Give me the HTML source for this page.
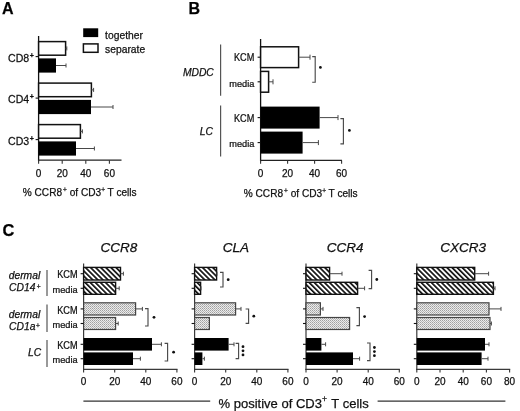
<!DOCTYPE html>
<html><head><meta charset="utf-8"><style>
html,body{margin:0;padding:0;background:#fff;}
svg{display:block;font-family:"Liberation Sans", sans-serif;filter:blur(0.4px);}
text{stroke:#111;stroke-width:0.25px;}
</style></head><body>
<svg width="520" height="411" viewBox="0 0 520 411">
<defs>
<pattern id="hatch" patternUnits="userSpaceOnUse" width="3.6" height="10" patternTransform="rotate(-45)">
<rect width="3.6" height="10" fill="#fff"/><rect width="1.7" height="10" fill="#111"/>
</pattern>
<pattern id="dots" patternUnits="userSpaceOnUse" width="2" height="2">
<rect width="2" height="2" fill="#ebebeb"/><rect width="1" height="1" fill="#a0a0a0"/><rect x="1" y="1" width="1" height="1" fill="#b8b8b8"/>
</pattern>
</defs>
<rect width="520" height="411" fill="#fff"/>
<text x="2" y="14" font-size="16" text-anchor="start" font-style="normal" font-weight="bold" fill="#000">A</text>
<line x1="38.6" y1="36" x2="38.6" y2="161.2" stroke="#111" stroke-width="1.3"/>
<line x1="38.0" y1="160.2" x2="121.5" y2="160.2" stroke="#222" stroke-width="1.2"/>
<line x1="38.6" y1="160.2" x2="38.6" y2="163.8" stroke="#333" stroke-width="1.1"/>
<text x="38.6" y="176.6" font-size="10" text-anchor="middle" font-style="normal" font-weight="normal" fill="#111">0</text>
<line x1="62.2" y1="160.2" x2="62.2" y2="163.8" stroke="#333" stroke-width="1.1"/>
<text x="62.2" y="176.6" font-size="10" text-anchor="middle" font-style="normal" font-weight="normal" fill="#111">20</text>
<line x1="85.80000000000001" y1="160.2" x2="85.80000000000001" y2="163.8" stroke="#333" stroke-width="1.1"/>
<text x="85.80000000000001" y="176.6" font-size="10" text-anchor="middle" font-style="normal" font-weight="normal" fill="#111">40</text>
<line x1="109.4" y1="160.2" x2="109.4" y2="163.8" stroke="#333" stroke-width="1.1"/>
<text x="109.4" y="176.6" font-size="10" text-anchor="middle" font-style="normal" font-weight="normal" fill="#111">60</text>
<rect x="38.6" y="41.6" width="26.999999999999993" height="13.6" fill="#fff" stroke="#111" stroke-width="1.5"/>
<line x1="65.6" y1="48.400000000000006" x2="66.8" y2="48.400000000000006" stroke="#484848" stroke-width="1"/>
<line x1="66.8" y1="46.400000000000006" x2="66.8" y2="50.400000000000006" stroke="#484848" stroke-width="1"/>
<rect x="38.6" y="58.4" width="17.4" height="14.2" fill="#000"/>
<line x1="56" y1="65.5" x2="66" y2="65.5" stroke="#484848" stroke-width="1"/>
<line x1="66" y1="63.5" x2="66" y2="67.5" stroke="#484848" stroke-width="1"/>
<line x1="35.6" y1="56.6" x2="38.6" y2="56.6" stroke="#111" stroke-width="1.1"/>
<text transform="translate(29.2,61.9) scale(0.96,1)" font-size="11" text-anchor="end" font-style="normal" font-weight="normal" fill="#111">CD8</text>
<text x="29.7" y="57.7" font-size="7" text-anchor="start" font-style="normal" font-weight="bold" fill="#111">+</text>
<rect x="38.6" y="83.1" width="52.800000000000004" height="13.6" fill="#fff" stroke="#111" stroke-width="1.5"/>
<line x1="91.4" y1="89.89999999999999" x2="93.6" y2="89.89999999999999" stroke="#484848" stroke-width="1"/>
<line x1="93.6" y1="87.89999999999999" x2="93.6" y2="91.89999999999999" stroke="#484848" stroke-width="1"/>
<rect x="38.6" y="99.89999999999999" width="52.4" height="14.2" fill="#000"/>
<line x1="91" y1="107.0" x2="113" y2="107.0" stroke="#484848" stroke-width="1"/>
<line x1="113" y1="105.0" x2="113" y2="109.0" stroke="#484848" stroke-width="1"/>
<line x1="35.6" y1="98.1" x2="38.6" y2="98.1" stroke="#111" stroke-width="1.1"/>
<text transform="translate(29.2,103.39999999999999) scale(0.96,1)" font-size="11" text-anchor="end" font-style="normal" font-weight="normal" fill="#111">CD4</text>
<text x="29.7" y="99.19999999999999" font-size="7" text-anchor="start" font-style="normal" font-weight="bold" fill="#111">+</text>
<rect x="38.6" y="124.6" width="41.800000000000004" height="13.6" fill="#fff" stroke="#111" stroke-width="1.5"/>
<line x1="80.4" y1="131.4" x2="82.4" y2="131.4" stroke="#484848" stroke-width="1"/>
<line x1="82.4" y1="129.4" x2="82.4" y2="133.4" stroke="#484848" stroke-width="1"/>
<rect x="38.6" y="141.4" width="37.4" height="14.2" fill="#000"/>
<line x1="76" y1="148.5" x2="94.4" y2="148.5" stroke="#484848" stroke-width="1"/>
<line x1="94.4" y1="146.5" x2="94.4" y2="150.5" stroke="#484848" stroke-width="1"/>
<line x1="35.6" y1="139.6" x2="38.6" y2="139.6" stroke="#111" stroke-width="1.1"/>
<text transform="translate(29.2,144.9) scale(0.96,1)" font-size="11" text-anchor="end" font-style="normal" font-weight="normal" fill="#111">CD3</text>
<text x="29.7" y="140.7" font-size="7" text-anchor="start" font-style="normal" font-weight="bold" fill="#111">+</text>
<rect x="83.2" y="28.3" width="15" height="8.8" fill="#000"/>
<rect x="83.4" y="43.9" width="14.6" height="8.4" fill="#fff" stroke="#111" stroke-width="1.5"/>
<text x="105.1" y="38.5" font-size="10.3" text-anchor="start" font-style="normal" font-weight="normal" fill="#111">together</text>
<text x="105.1" y="53.4" font-size="10.3" text-anchor="start" font-style="normal" font-weight="normal" fill="#111">separate</text>
<text x="22.8" y="196.1" font-size="10.1" text-anchor="start" font-style="normal" font-weight="normal" fill="#111">% CCR8<tspan font-size="6.5" dy="-4" dx="1">+</tspan><tspan dy="4" dx="0"> </tspan>of CD3<tspan font-size="6.5" dy="-4" dx="0.1">+</tspan><tspan dy="4" dx="0"> </tspan>T cells</text>
<text x="188.6" y="13.9" font-size="16" text-anchor="start" font-style="normal" font-weight="bold" fill="#000">B</text>
<line x1="260.6" y1="39" x2="260.6" y2="161.2" stroke="#111" stroke-width="1.3"/>
<line x1="260.0" y1="160.4" x2="342" y2="160.4" stroke="#222" stroke-width="1.2"/>
<line x1="260.6" y1="160.4" x2="260.6" y2="163.8" stroke="#333" stroke-width="1.1"/>
<text x="260.6" y="176.6" font-size="10" text-anchor="middle" font-style="normal" font-weight="normal" fill="#111">0</text>
<line x1="287.6" y1="160.4" x2="287.6" y2="163.8" stroke="#333" stroke-width="1.1"/>
<text x="287.6" y="176.6" font-size="10" text-anchor="middle" font-style="normal" font-weight="normal" fill="#111">20</text>
<line x1="314.6" y1="160.4" x2="314.6" y2="163.8" stroke="#333" stroke-width="1.1"/>
<text x="314.6" y="176.6" font-size="10" text-anchor="middle" font-style="normal" font-weight="normal" fill="#111">40</text>
<line x1="341.6" y1="160.4" x2="341.6" y2="163.8" stroke="#333" stroke-width="1.1"/>
<text x="341.6" y="176.6" font-size="10" text-anchor="middle" font-style="normal" font-weight="normal" fill="#111">60</text>
<rect x="260.6" y="46.800000000000004" width="38.0" height="20.8" fill="#fff" stroke="#111" stroke-width="1.5"/>
<line x1="298.6" y1="57.2" x2="310" y2="57.2" stroke="#484848" stroke-width="1"/>
<line x1="310" y1="54.7" x2="310" y2="59.7" stroke="#484848" stroke-width="1"/>
<line x1="257.6" y1="57.2" x2="260.6" y2="57.2" stroke="#111" stroke-width="1.1"/>
<text transform="translate(254.3,61.3) scale(0.91,1)" font-size="10.1" text-anchor="end" font-style="normal" font-weight="normal" fill="#111">KCM</text>
<rect x="260.6" y="71.39999999999999" width="8.0" height="20.8" fill="#fff" stroke="#111" stroke-width="1.5"/>
<line x1="268.6" y1="81.8" x2="273" y2="81.8" stroke="#484848" stroke-width="1"/>
<line x1="273" y1="79.3" x2="273" y2="84.3" stroke="#484848" stroke-width="1"/>
<line x1="257.6" y1="81.8" x2="260.6" y2="81.8" stroke="#111" stroke-width="1.1"/>
<text transform="translate(254.3,86.9) scale(0.94,1)" font-size="9.8" text-anchor="end" font-style="normal" font-weight="normal" fill="#111">media</text>
<rect x="260.6" y="106.6" width="59.0" height="22" fill="#000"/>
<line x1="319.6" y1="117.6" x2="338" y2="117.6" stroke="#484848" stroke-width="1"/>
<line x1="338" y1="115.1" x2="338" y2="120.1" stroke="#484848" stroke-width="1"/>
<line x1="257.6" y1="117.6" x2="260.6" y2="117.6" stroke="#111" stroke-width="1.1"/>
<text transform="translate(254.3,121.7) scale(0.91,1)" font-size="10.1" text-anchor="end" font-style="normal" font-weight="normal" fill="#111">KCM</text>
<rect x="260.6" y="131.6" width="42.0" height="22" fill="#000"/>
<line x1="302.6" y1="142.6" x2="318.4" y2="142.6" stroke="#484848" stroke-width="1"/>
<line x1="318.4" y1="140.1" x2="318.4" y2="145.1" stroke="#484848" stroke-width="1"/>
<line x1="257.6" y1="142.6" x2="260.6" y2="142.6" stroke="#111" stroke-width="1.1"/>
<text transform="translate(254.3,147.0) scale(0.94,1)" font-size="9.8" text-anchor="end" font-style="normal" font-weight="normal" fill="#111">media</text>
<polyline points="312.2,56.6 315.2,56.6 315.2,82.2 312.2,82.2" fill="none" stroke="#4a4a4a" stroke-width="1.15"/>
<circle cx="320.4" cy="67.4" r="1.4" fill="#111"/>
<polyline points="340.4,118.6 343.4,118.6 343.4,143.8 340.4,143.8" fill="none" stroke="#4a4a4a" stroke-width="1.15"/>
<circle cx="349.4" cy="130.4" r="1.4" fill="#111"/>
<line x1="220.6" y1="44.4" x2="220.6" y2="95.8" stroke="#555" stroke-width="1.2"/>
<line x1="220.6" y1="105.4" x2="220.6" y2="156.4" stroke="#555" stroke-width="1.2"/>
<text x="213.8" y="75.8" font-size="10.3" text-anchor="end" font-style="italic" font-weight="normal" fill="#111">MDDC</text>
<text x="213.0" y="135.4" font-size="10.3" text-anchor="end" font-style="italic" font-weight="normal" fill="#111">LC</text>
<text x="243.8" y="196.6" font-size="10.1" text-anchor="start" font-style="normal" font-weight="normal" fill="#111">% CCR8<tspan font-size="6.5" dy="-4" dx="1">+</tspan><tspan dy="4" dx="0"> </tspan>of CD3<tspan font-size="6.5" dy="-4" dx="0.1">+</tspan><tspan dy="4" dx="0"> </tspan>T cells</text>
<text x="2.4" y="236.4" font-size="16.4" text-anchor="start" font-style="normal" font-weight="bold" fill="#000">C</text>
<text x="100.4" y="251.6" font-size="13.5" text-anchor="start" font-style="italic" font-weight="normal" fill="#111">CCR8</text>
<text x="222.8" y="251.6" font-size="13.5" text-anchor="start" font-style="italic" font-weight="normal" fill="#111">CLA</text>
<text x="326.8" y="251.6" font-size="13.5" text-anchor="start" font-style="italic" font-weight="normal" fill="#111">CCR4</text>
<text x="440.2" y="251.6" font-size="13.5" text-anchor="start" font-style="italic" font-weight="normal" fill="#111">CXCR3</text>
<line x1="83.6" y1="263.4" x2="83.6" y2="369.9" stroke="#3a3a3a" stroke-width="1.2"/>
<line x1="83.0" y1="369.3" x2="177.5" y2="369.3" stroke="#3a3a3a" stroke-width="1.15"/>
<line x1="83.6" y1="369.3" x2="83.6" y2="372.6" stroke="#333" stroke-width="1.1"/>
<text x="83.6" y="385.4" font-size="10" text-anchor="middle" font-style="normal" font-weight="normal" fill="#111">0</text>
<line x1="114.69999999999999" y1="369.3" x2="114.69999999999999" y2="372.6" stroke="#333" stroke-width="1.1"/>
<text x="114.69999999999999" y="385.4" font-size="10" text-anchor="middle" font-style="normal" font-weight="normal" fill="#111">20</text>
<line x1="145.8" y1="369.3" x2="145.8" y2="372.6" stroke="#333" stroke-width="1.1"/>
<text x="145.8" y="385.4" font-size="10" text-anchor="middle" font-style="normal" font-weight="normal" fill="#111">40</text>
<line x1="176.9" y1="369.3" x2="176.9" y2="372.6" stroke="#333" stroke-width="1.1"/>
<text x="176.9" y="385.4" font-size="10" text-anchor="middle" font-style="normal" font-weight="normal" fill="#111">60</text>
<rect x="83.6" y="267.4" width="36.900000000000006" height="12.6" fill="url(#hatch)" stroke="#111" stroke-width="1.4"/>
<line x1="120.5" y1="273.7" x2="123.4" y2="273.7" stroke="#484848" stroke-width="1"/>
<line x1="123.4" y1="271.7" x2="123.4" y2="275.7" stroke="#484848" stroke-width="1"/>
<line x1="80.6" y1="273.7" x2="83.6" y2="273.7" stroke="#111" stroke-width="1.1"/>
<rect x="83.6" y="282.3" width="32.0" height="12.0" fill="url(#hatch)" stroke="#111" stroke-width="1.4"/>
<line x1="115.6" y1="288.3" x2="119.2" y2="288.3" stroke="#484848" stroke-width="1"/>
<line x1="119.2" y1="286.3" x2="119.2" y2="290.3" stroke="#484848" stroke-width="1"/>
<line x1="80.6" y1="288.3" x2="83.6" y2="288.3" stroke="#111" stroke-width="1.1"/>
<rect x="83.6" y="302.79999999999995" width="52.0" height="12.2" fill="url(#dots)" stroke="#444" stroke-width="1.2"/>
<line x1="135.6" y1="308.9" x2="142.4" y2="308.9" stroke="#484848" stroke-width="1"/>
<line x1="142.4" y1="306.9" x2="142.4" y2="310.9" stroke="#484848" stroke-width="1"/>
<line x1="80.6" y1="308.9" x2="83.6" y2="308.9" stroke="#111" stroke-width="1.1"/>
<rect x="83.6" y="317.5" width="32.0" height="12.0" fill="url(#dots)" stroke="#444" stroke-width="1.2"/>
<line x1="115.6" y1="323.5" x2="118.2" y2="323.5" stroke="#484848" stroke-width="1"/>
<line x1="118.2" y1="321.5" x2="118.2" y2="325.5" stroke="#484848" stroke-width="1"/>
<line x1="80.6" y1="323.5" x2="83.6" y2="323.5" stroke="#111" stroke-width="1.1"/>
<rect x="83.6" y="338.0" width="68.4" height="12.6" fill="#000"/>
<line x1="152" y1="344.3" x2="161.4" y2="344.3" stroke="#484848" stroke-width="1"/>
<line x1="161.4" y1="342.3" x2="161.4" y2="346.3" stroke="#484848" stroke-width="1"/>
<line x1="80.6" y1="344.3" x2="83.6" y2="344.3" stroke="#111" stroke-width="1.1"/>
<rect x="83.6" y="352.4" width="49.400000000000006" height="12.6" fill="#000"/>
<line x1="133" y1="358.7" x2="140.4" y2="358.7" stroke="#484848" stroke-width="1"/>
<line x1="140.4" y1="356.7" x2="140.4" y2="360.7" stroke="#484848" stroke-width="1"/>
<line x1="80.6" y1="358.7" x2="83.6" y2="358.7" stroke="#111" stroke-width="1.1"/>
<polyline points="145,308.6 148,308.6 148,326 145,326" fill="none" stroke="#4a4a4a" stroke-width="1.15"/>
<circle cx="154" cy="317.3" r="1.4" fill="#111"/>
<polyline points="164.6,343.4 167.6,343.4 167.6,361 164.6,361" fill="none" stroke="#4a4a4a" stroke-width="1.15"/>
<circle cx="173.6" cy="352.2" r="1.4" fill="#111"/>
<line x1="194.6" y1="263.4" x2="194.6" y2="369.9" stroke="#3a3a3a" stroke-width="1.2"/>
<line x1="194.0" y1="369.3" x2="288.5" y2="369.3" stroke="#3a3a3a" stroke-width="1.15"/>
<line x1="194.6" y1="369.3" x2="194.6" y2="372.6" stroke="#333" stroke-width="1.1"/>
<text x="194.6" y="385.4" font-size="10" text-anchor="middle" font-style="normal" font-weight="normal" fill="#111">0</text>
<line x1="225.7" y1="369.3" x2="225.7" y2="372.6" stroke="#333" stroke-width="1.1"/>
<text x="225.7" y="385.4" font-size="10" text-anchor="middle" font-style="normal" font-weight="normal" fill="#111">20</text>
<line x1="256.8" y1="369.3" x2="256.8" y2="372.6" stroke="#333" stroke-width="1.1"/>
<text x="256.8" y="385.4" font-size="10" text-anchor="middle" font-style="normal" font-weight="normal" fill="#111">40</text>
<line x1="287.9" y1="369.3" x2="287.9" y2="372.6" stroke="#333" stroke-width="1.1"/>
<text x="287.9" y="385.4" font-size="10" text-anchor="middle" font-style="normal" font-weight="normal" fill="#111">60</text>
<rect x="194.6" y="267.4" width="22.0" height="12.6" fill="url(#hatch)" stroke="#111" stroke-width="1.4"/>
<line x1="216.6" y1="273.7" x2="217" y2="273.7" stroke="#484848" stroke-width="1"/>
<line x1="217" y1="271.7" x2="217" y2="275.7" stroke="#484848" stroke-width="1"/>
<line x1="191.6" y1="273.7" x2="194.6" y2="273.7" stroke="#111" stroke-width="1.1"/>
<rect x="194.6" y="282.3" width="6.0" height="12.0" fill="url(#hatch)" stroke="#111" stroke-width="1.4"/>
<line x1="200.6" y1="288.3" x2="201" y2="288.3" stroke="#484848" stroke-width="1"/>
<line x1="201" y1="286.3" x2="201" y2="290.3" stroke="#484848" stroke-width="1"/>
<line x1="191.6" y1="288.3" x2="194.6" y2="288.3" stroke="#111" stroke-width="1.1"/>
<rect x="194.6" y="302.79999999999995" width="41.0" height="12.2" fill="url(#dots)" stroke="#444" stroke-width="1.2"/>
<line x1="235.6" y1="308.9" x2="241" y2="308.9" stroke="#484848" stroke-width="1"/>
<line x1="241" y1="306.9" x2="241" y2="310.9" stroke="#484848" stroke-width="1"/>
<line x1="191.6" y1="308.9" x2="194.6" y2="308.9" stroke="#111" stroke-width="1.1"/>
<rect x="194.6" y="317.5" width="14.800000000000011" height="12.0" fill="url(#dots)" stroke="#444" stroke-width="1.2"/>
<line x1="191.6" y1="323.5" x2="194.6" y2="323.5" stroke="#111" stroke-width="1.1"/>
<rect x="194.6" y="338.0" width="34.0" height="12.6" fill="#000"/>
<line x1="228.6" y1="344.3" x2="234" y2="344.3" stroke="#484848" stroke-width="1"/>
<line x1="234" y1="342.3" x2="234" y2="346.3" stroke="#484848" stroke-width="1"/>
<line x1="191.6" y1="344.3" x2="194.6" y2="344.3" stroke="#111" stroke-width="1.1"/>
<rect x="194.6" y="352.4" width="7.800000000000011" height="12.6" fill="#000"/>
<line x1="202.4" y1="358.7" x2="204.4" y2="358.7" stroke="#484848" stroke-width="1"/>
<line x1="204.4" y1="356.7" x2="204.4" y2="360.7" stroke="#484848" stroke-width="1"/>
<line x1="191.6" y1="358.7" x2="194.6" y2="358.7" stroke="#111" stroke-width="1.1"/>
<polyline points="220,272.4 223,272.4 223,287 220,287" fill="none" stroke="#4a4a4a" stroke-width="1.15"/>
<circle cx="228.2" cy="279.7" r="1.4" fill="#111"/>
<polyline points="245.6,309 248.6,309 248.6,323.4 245.6,323.4" fill="none" stroke="#4a4a4a" stroke-width="1.15"/>
<circle cx="253.79999999999998" cy="316.2" r="1.4" fill="#111"/>
<polyline points="235.6,343.4 238.6,343.4 238.6,358.6 235.6,358.6" fill="none" stroke="#4a4a4a" stroke-width="1.15"/>
<circle cx="243.0" cy="346.7" r="1.4" fill="#111"/>
<circle cx="243.0" cy="350.8" r="1.4" fill="#111"/>
<circle cx="243.0" cy="354.90000000000003" r="1.4" fill="#111"/>
<line x1="306" y1="263.4" x2="306" y2="369.9" stroke="#3a3a3a" stroke-width="1.2"/>
<line x1="305.4" y1="369.3" x2="399.90000000000003" y2="369.3" stroke="#3a3a3a" stroke-width="1.15"/>
<line x1="306.0" y1="369.3" x2="306.0" y2="372.6" stroke="#333" stroke-width="1.1"/>
<text x="306.0" y="385.4" font-size="10" text-anchor="middle" font-style="normal" font-weight="normal" fill="#111">0</text>
<line x1="337.1" y1="369.3" x2="337.1" y2="372.6" stroke="#333" stroke-width="1.1"/>
<text x="337.1" y="385.4" font-size="10" text-anchor="middle" font-style="normal" font-weight="normal" fill="#111">20</text>
<line x1="368.2" y1="369.3" x2="368.2" y2="372.6" stroke="#333" stroke-width="1.1"/>
<text x="368.2" y="385.4" font-size="10" text-anchor="middle" font-style="normal" font-weight="normal" fill="#111">40</text>
<line x1="399.3" y1="369.3" x2="399.3" y2="372.6" stroke="#333" stroke-width="1.1"/>
<text x="399.3" y="385.4" font-size="10" text-anchor="middle" font-style="normal" font-weight="normal" fill="#111">60</text>
<rect x="306" y="267.4" width="23.600000000000023" height="12.6" fill="url(#hatch)" stroke="#111" stroke-width="1.4"/>
<line x1="329.6" y1="273.7" x2="342" y2="273.7" stroke="#484848" stroke-width="1"/>
<line x1="342" y1="271.7" x2="342" y2="275.7" stroke="#484848" stroke-width="1"/>
<line x1="303" y1="273.7" x2="306" y2="273.7" stroke="#111" stroke-width="1.1"/>
<rect x="306" y="282.3" width="51.60000000000002" height="12.0" fill="url(#hatch)" stroke="#111" stroke-width="1.4"/>
<line x1="357.6" y1="288.3" x2="364.6" y2="288.3" stroke="#484848" stroke-width="1"/>
<line x1="364.6" y1="286.3" x2="364.6" y2="290.3" stroke="#484848" stroke-width="1"/>
<line x1="303" y1="288.3" x2="306" y2="288.3" stroke="#111" stroke-width="1.1"/>
<rect x="306" y="302.79999999999995" width="14.399999999999977" height="12.2" fill="url(#dots)" stroke="#444" stroke-width="1.2"/>
<line x1="320.4" y1="308.9" x2="323" y2="308.9" stroke="#484848" stroke-width="1"/>
<line x1="323" y1="306.9" x2="323" y2="310.9" stroke="#484848" stroke-width="1"/>
<line x1="303" y1="308.9" x2="306" y2="308.9" stroke="#111" stroke-width="1.1"/>
<rect x="306" y="317.5" width="43.60000000000002" height="12.0" fill="url(#dots)" stroke="#444" stroke-width="1.2"/>
<line x1="303" y1="323.5" x2="306" y2="323.5" stroke="#111" stroke-width="1.1"/>
<rect x="306" y="338.0" width="15.399999999999977" height="12.6" fill="#000"/>
<line x1="321.4" y1="344.3" x2="325.6" y2="344.3" stroke="#484848" stroke-width="1"/>
<line x1="325.6" y1="342.3" x2="325.6" y2="346.3" stroke="#484848" stroke-width="1"/>
<line x1="303" y1="344.3" x2="306" y2="344.3" stroke="#111" stroke-width="1.1"/>
<rect x="306" y="352.4" width="47" height="12.6" fill="#000"/>
<line x1="353" y1="358.7" x2="359.6" y2="358.7" stroke="#484848" stroke-width="1"/>
<line x1="359.6" y1="356.7" x2="359.6" y2="360.7" stroke="#484848" stroke-width="1"/>
<line x1="303" y1="358.7" x2="306" y2="358.7" stroke="#111" stroke-width="1.1"/>
<polyline points="368.6,270.4 371.6,270.4 371.6,288.6 368.6,288.6" fill="none" stroke="#4a4a4a" stroke-width="1.15"/>
<circle cx="376.8" cy="279.5" r="1.4" fill="#111"/>
<polyline points="356.4,307.6 359.4,307.6 359.4,325.6 356.4,325.6" fill="none" stroke="#4a4a4a" stroke-width="1.15"/>
<circle cx="364.59999999999997" cy="316.6" r="1.4" fill="#111"/>
<polyline points="367,343 370,343 370,360.6 367,360.6" fill="none" stroke="#4a4a4a" stroke-width="1.15"/>
<circle cx="374.4" cy="347.5" r="1.4" fill="#111"/>
<circle cx="374.4" cy="351.6" r="1.4" fill="#111"/>
<circle cx="374.4" cy="355.70000000000005" r="1.4" fill="#111"/>
<line x1="416.8" y1="263.4" x2="416.8" y2="369.9" stroke="#3a3a3a" stroke-width="1.2"/>
<line x1="416.2" y1="369.3" x2="510.20000000000005" y2="369.3" stroke="#3a3a3a" stroke-width="1.15"/>
<line x1="416.8" y1="369.3" x2="416.8" y2="372.6" stroke="#333" stroke-width="1.1"/>
<text x="416.8" y="385.4" font-size="10" text-anchor="middle" font-style="normal" font-weight="normal" fill="#111">0</text>
<line x1="440.0" y1="369.3" x2="440.0" y2="372.6" stroke="#333" stroke-width="1.1"/>
<text x="440.0" y="385.4" font-size="10" text-anchor="middle" font-style="normal" font-weight="normal" fill="#111">20</text>
<line x1="463.2" y1="369.3" x2="463.2" y2="372.6" stroke="#333" stroke-width="1.1"/>
<text x="463.2" y="385.4" font-size="10" text-anchor="middle" font-style="normal" font-weight="normal" fill="#111">40</text>
<line x1="486.4" y1="369.3" x2="486.4" y2="372.6" stroke="#333" stroke-width="1.1"/>
<text x="486.4" y="385.4" font-size="10" text-anchor="middle" font-style="normal" font-weight="normal" fill="#111">60</text>
<line x1="509.6" y1="369.3" x2="509.6" y2="372.6" stroke="#333" stroke-width="1.1"/>
<text x="509.6" y="385.4" font-size="10" text-anchor="middle" font-style="normal" font-weight="normal" fill="#111">80</text>
<rect x="416.8" y="267.4" width="57.89999999999998" height="12.6" fill="url(#hatch)" stroke="#111" stroke-width="1.4"/>
<line x1="474.7" y1="273.7" x2="488.6" y2="273.7" stroke="#484848" stroke-width="1"/>
<line x1="488.6" y1="271.7" x2="488.6" y2="275.7" stroke="#484848" stroke-width="1"/>
<line x1="413.8" y1="273.7" x2="416.8" y2="273.7" stroke="#111" stroke-width="1.1"/>
<rect x="416.8" y="282.3" width="76.59999999999997" height="12.0" fill="url(#hatch)" stroke="#111" stroke-width="1.4"/>
<line x1="493.4" y1="288.3" x2="495" y2="288.3" stroke="#484848" stroke-width="1"/>
<line x1="495" y1="286.3" x2="495" y2="290.3" stroke="#484848" stroke-width="1"/>
<line x1="413.8" y1="288.3" x2="416.8" y2="288.3" stroke="#111" stroke-width="1.1"/>
<rect x="416.8" y="302.79999999999995" width="72.19999999999999" height="12.2" fill="url(#dots)" stroke="#444" stroke-width="1.2"/>
<line x1="489" y1="308.9" x2="501" y2="308.9" stroke="#484848" stroke-width="1"/>
<line x1="501" y1="306.9" x2="501" y2="310.9" stroke="#484848" stroke-width="1"/>
<line x1="413.8" y1="308.9" x2="416.8" y2="308.9" stroke="#111" stroke-width="1.1"/>
<rect x="416.8" y="317.5" width="73.19999999999999" height="12.0" fill="url(#dots)" stroke="#444" stroke-width="1.2"/>
<line x1="490" y1="323.5" x2="491.4" y2="323.5" stroke="#484848" stroke-width="1"/>
<line x1="491.4" y1="321.5" x2="491.4" y2="325.5" stroke="#484848" stroke-width="1"/>
<line x1="413.8" y1="323.5" x2="416.8" y2="323.5" stroke="#111" stroke-width="1.1"/>
<rect x="416.8" y="338.0" width="68.19999999999999" height="12.6" fill="#000"/>
<line x1="485" y1="344.3" x2="489" y2="344.3" stroke="#484848" stroke-width="1"/>
<line x1="489" y1="342.3" x2="489" y2="346.3" stroke="#484848" stroke-width="1"/>
<line x1="413.8" y1="344.3" x2="416.8" y2="344.3" stroke="#111" stroke-width="1.1"/>
<rect x="416.8" y="352.4" width="64.80000000000001" height="12.6" fill="#000"/>
<line x1="481.6" y1="358.7" x2="488" y2="358.7" stroke="#484848" stroke-width="1"/>
<line x1="488" y1="356.7" x2="488" y2="360.7" stroke="#484848" stroke-width="1"/>
<line x1="413.8" y1="358.7" x2="416.8" y2="358.7" stroke="#111" stroke-width="1.1"/>
<text transform="translate(77.6,278.45) scale(0.91,1)" font-size="10.1" text-anchor="end" font-style="normal" font-weight="normal" fill="#111">KCM</text>
<text transform="translate(77.6,293.0) scale(0.94,1)" font-size="9.8" text-anchor="end" font-style="normal" font-weight="normal" fill="#111">media</text>
<text transform="translate(77.6,313.65) scale(0.91,1)" font-size="10.1" text-anchor="end" font-style="normal" font-weight="normal" fill="#111">KCM</text>
<text transform="translate(77.6,328.2) scale(0.94,1)" font-size="9.8" text-anchor="end" font-style="normal" font-weight="normal" fill="#111">media</text>
<text transform="translate(77.6,349.05) scale(0.91,1)" font-size="10.1" text-anchor="end" font-style="normal" font-weight="normal" fill="#111">KCM</text>
<text transform="translate(77.6,363.4) scale(0.94,1)" font-size="9.8" text-anchor="end" font-style="normal" font-weight="normal" fill="#111">media</text>
<line x1="47" y1="270" x2="47" y2="296" stroke="#555" stroke-width="1.2"/>
<line x1="47" y1="304.4" x2="47" y2="332" stroke="#555" stroke-width="1.2"/>
<line x1="47" y1="340" x2="47" y2="367" stroke="#555" stroke-width="1.2"/>
<text x="40.2" y="278.8" font-size="10.3" text-anchor="end" font-style="italic" font-weight="normal" fill="#111">dermal</text>
<text x="35.4" y="290.6" font-size="10.3" text-anchor="end" font-style="italic" font-weight="normal" fill="#111">CD14</text>
<text x="36.7" y="288.6" font-size="6.6" text-anchor="start" font-style="normal" font-weight="normal" fill="#111">+</text>
<text x="40.2" y="317.6" font-size="10.3" text-anchor="end" font-style="italic" font-weight="normal" fill="#111">dermal</text>
<text x="35.4" y="329.8" font-size="10.3" text-anchor="end" font-style="italic" font-weight="normal" fill="#111">CD1a</text>
<text x="35.9" y="328.1" font-size="6.6" text-anchor="start" font-style="normal" font-weight="normal" fill="#111">+</text>
<text x="41.2" y="356.2" font-size="10.3" text-anchor="end" font-style="italic" font-weight="normal" fill="#111">LC</text>
<line x1="83.4" y1="401.2" x2="210.2" y2="401.2" stroke="#333" stroke-width="1.2"/>
<line x1="377.6" y1="401.2" x2="505.4" y2="401.2" stroke="#333" stroke-width="1.2"/>
<text x="218.6" y="407.6" font-size="13" text-anchor="start" font-style="normal" font-weight="normal" fill="#111">% positive of CD3<tspan font-size="8.6" dy="-5.2" dx="0">+</tspan><tspan dy="5.2" dx="1"> </tspan>T cells</text>
</svg>
</body></html>
